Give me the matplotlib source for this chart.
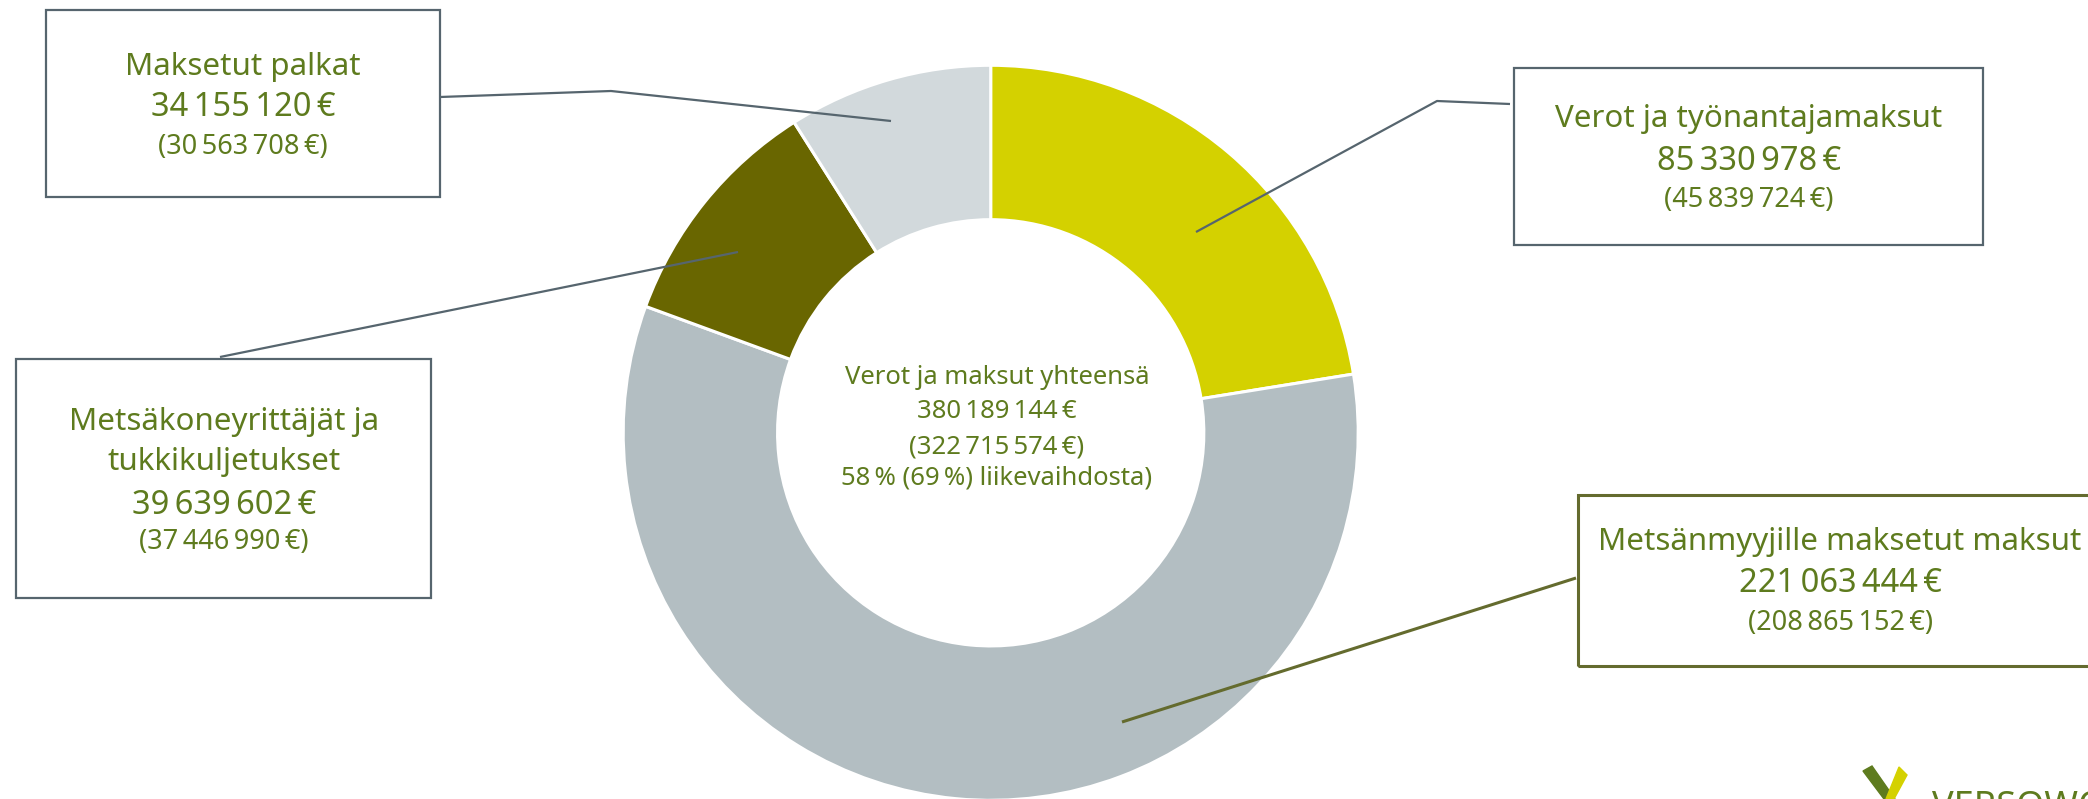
import matplotlib.pyplot as plt
from matplotlib.patches import Rectangle, Polygon

# --- data ---
categories = ["Verot ja työnantajamaksut", "Metsänmyyjille maksetut maksut",
              "Metsäkoneyrittäjät ja\ntukkikuljetukset", "Maksetut palkat"]
values = [85330978, 221063444, 39639602, 34155120]
prev_values = [45839724, 208865152, 37446990, 30563708]
total_now = 380189144
total_prev = 322715574
share_now = 58
share_prev = 69
slice_colors = ["#D4D100", "#B3BEC2", "#696600", "#D2D9DC"]

plt.rcParams["font.family"] = ["Noto Sans", "DejaVu Sans"]

W, H = 2088, 799
TXT = "#5E7B1E"
GRAY_LINE = "#56656E"
OLIVE_LINE = "#646B2E"


def eur(v):
    return f"{v:,}".replace(",", "\u2009") + "\u2009€"


def fy(y):
    # pixel rows from the top -> axis units from the bottom
    return H - y


fig = plt.figure(figsize=(W / 100, H / 100), dpi=100)
ax = fig.add_axes([0, 0, 1, 1])

# --- donut ---
cx, cy, R = 990.7, 432.8, 367.5
ax.pie(values, colors=slice_colors, startangle=90, counterclock=False,
       radius=R, center=(cx, fy(cy)),
       wedgeprops=dict(width=R * 0.42, edgecolor="white", linewidth=2.2))

# --- centre text ---
center_lines = [
    ("Verot ja maksut yhteensä", 377, 18.5),
    (eur(total_now), 412, 18.5),
    ("(" + eur(total_prev) + ")", 447, 18.5),
    (f"{share_now}\u2009% ({share_prev}\u2009%) liikevaihdosta)", 478, 18.5),
]
for s, y, fs in center_lines:
    ax.text(997, fy(y), s, ha="center", va="center", fontsize=fs, color=TXT)

# --- label boxes: (left, top, right, bottom), line rows, text x, connector path, colour ---
boxes = [
    ((1514, 68, 1983, 245), [119, 161, 200], 1749,
     [(1510, 104), (1437, 101), (1196, 232)], GRAY_LINE),
    ((1578, 495, 2110, 666), [542, 584, 623], 1840,
     [(1576, 578), (1122, 722)], OLIVE_LINE),
    ((16, 359, 431, 598), [422, 462, 505, 542], 224,
     [(220, 357), (738, 252)], GRAY_LINE),
    ((46, 10, 440, 197), [67, 108, 147], 243,
     [(440, 97), (611, 91), (891, 121)], GRAY_LINE),
]

for cat, v, pv, (box, rows, tx, path, col) in zip(categories, values, prev_values, boxes):
    l, t, r, b = box
    lw = 2.2 if col == OLIVE_LINE else 1.6
    ax.add_patch(Rectangle((l, fy(b)), r - l, b - t, fill=False,
                           edgecolor=col, linewidth=lw, zorder=3))
    xs = [p[0] for p in path]
    ys = [fy(p[1]) for p in path]
    ax.plot(xs, ys, color=col, linewidth=lw, solid_capstyle="butt", zorder=4)

    lines = cat.split("\n") + [eur(v), "(" + eur(pv) + ")"]
    sizes = [22.5] * (len(lines) - 2) + [23.5, 19.5]
    for s, y, fs in zip(lines, rows, sizes):
        ax.text(tx, fy(y), s, ha="center", va="center", fontsize=fs, color=TXT, zorder=5)

# --- logo (cut off at the bottom right, as in the source) ---
ax.add_patch(Polygon([(1863, fy(771)), (1872, fy(766)), (1895, fy(799)), (1884, fy(799))],
                     closed=True, color="#5E7B1E", zorder=5))
ax.add_patch(Polygon([(1899, fy(767)), (1907, fy(775)), (1894, fy(799)), (1886, fy(799))],
                     closed=True, color="#D4D100", zorder=5))
ax.text(1932, fy(790), "VERSOWOOD", ha="left", va="top", fontsize=26,
        fontweight="bold", color="#5E7B1E", zorder=5)

ax.set_xlim(0, W)
ax.set_ylim(0, H)
ax.set_aspect("auto")
ax.axis("off")

fig.savefig("out.png", dpi=100)
plt.close(fig)
